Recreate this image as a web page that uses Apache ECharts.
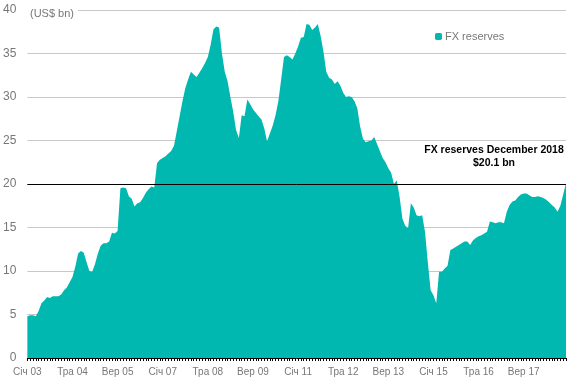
<!DOCTYPE html>
<html>
<head>
<meta charset="utf-8">
<script src="https://cdn.jsdelivr.net/npm/echarts@6/dist/echarts.min.js"></script>
<style>
html,body{margin:0;padding:0;background:#fff;}
#chart{width:586px;height:392px;}
</style>
</head>
<body>
<div id="chart"></div>
<script>
// Month abbreviations (Ukrainian) and years for category labels
var monthNames = ['Січ','Лют','Бер','Кві','Тра','Чер','Лип','Сер','Вер','Жов','Лис','Гру'];
var years = ['03','04','05','06','07','08','09','10','11','12','13','14','15','16','17','18'];

// FX reserves, US$ bn, monthly Jan 2003 - Dec 2018
var fx2003 = [4.8, 4.9, 4.9, 4.8, 5.4, 6.3, 6.6, 7.0, 6.9, 7.1, 7.1, 7.1];
var fx2004 = [7.3, 7.8, 8.1, 8.7, 9.3, 10.5, 12.0, 12.3, 12.1, 11.0, 10.0, 9.9];
var fx2005 = [10.8, 12.0, 12.9, 13.2, 13.2, 13.4, 14.4, 14.3, 14.6, 19.5, 19.6, 19.5];
var fx2006 = [18.6, 18.3, 17.4, 17.8, 17.9, 18.4, 19.0, 19.4, 19.7, 19.6, 22.4, 22.8];
var fx2007 = [23.0, 23.2, 23.5, 23.8, 24.4, 26.1, 27.8, 29.5, 31.0, 32.0, 32.9, 32.6];
var fx2008 = [32.3, 32.8, 33.3, 33.9, 34.6, 36.0, 37.8, 38.1, 38.0, 35.0, 32.9, 31.8];
var fx2009 = [30.0, 28.3, 26.2, 25.3, 27.9, 27.8, 29.7, 29.2, 28.6, 28.2, 27.8, 27.4];
var fx2010 = [26.4, 24.9, 25.8, 26.7, 27.9, 29.5, 32.0, 34.6, 34.8, 34.6, 34.3, 35.0];
var fx2011 = [35.8, 36.8, 36.9, 38.4, 38.3, 37.7, 38.0, 38.4, 37.0, 35.2, 32.9, 32.2];
var fx2012 = [32.0, 31.5, 31.8, 31.3, 30.5, 30.0, 30.1, 30.0, 29.5, 28.7, 26.6, 25.2];
var fx2013 = [24.8, 24.9, 25.0, 25.4, 24.6, 23.8, 23.0, 22.5, 21.8, 21.3, 20.0, 20.4];
var fx2014 = [18.5, 16.0, 15.2, 14.9, 17.8, 17.3, 16.4, 16.3, 16.4, 14.5, 11.0, 7.8];
var fx2015 = [7.2, 6.3, 9.9, 9.9, 10.3, 10.6, 12.4, 12.6, 12.8, 13.0, 13.2, 13.4];
var fx2016 = [13.4, 13.0, 13.5, 13.8, 14.0, 14.1, 14.3, 14.5, 15.7, 15.6, 15.5, 15.6];
var fx2017 = [15.6, 15.5, 16.8, 17.6, 18.0, 18.1, 18.5, 18.8, 18.9, 18.9, 18.7, 18.5];
var fx2018 = [18.5, 18.6, 18.5, 18.4, 18.2, 17.9, 17.6, 17.3, 16.8, 17.5, 18.8, 20.1];

var refLevel = 20.1;
var yTicks = [0, 5, 10, 15, 20, 25, 30, 35, 40];

var fxValues = [].concat(fx2003, fx2004, fx2005, fx2006, fx2007, fx2008, fx2009, fx2010,
  fx2011, fx2012, fx2013, fx2014, fx2015, fx2016, fx2017, fx2018);

var categories = [];
years.forEach(function (y) {
  monthNames.forEach(function (m) { categories.push(m + ' ' + y); });
});

var FONT = '"Liberation Sans", Arial, sans-serif';
var chart = echarts.init(document.getElementById('chart'), null, {renderer: 'canvas'});
chart.setOption({
  animation: false,
  backgroundColor: '#fff',
  title: {
    text: '(US$ bn)',
    left: 27, top: 7,
    padding: [1, 4, 1, 3],
    backgroundColor: '#fff',
    textStyle: {fontFamily: FONT, fontSize: 11, fontWeight: 'normal', color: '#777'}
  },
  legend: {
    data: ['FX reserves'],
    left: 430, top: 26,
    icon: 'roundRect',
    itemWidth: 7, itemHeight: 7,
    textStyle: {fontFamily: FONT, fontSize: 11, color: '#777', padding: [0, 0, 0, -2]}
  },
  grid: {left: 26, right: 20, top: 10, bottom: 34, containLabel: false},
  xAxis: {
    type: 'category',
    data: categories,
    boundaryGap: false,
    axisLine: {lineStyle: {color: '#000', width: 1}},
    axisTick: {show: true, interval: 0, length: 3, lineStyle: {color: '#000', width: 1}},
    axisLabel: {interval: 15, fontFamily: FONT, fontSize: 10, color: '#777', margin: 9},
    splitLine: {show: false}
  },
  yAxis: {
    type: 'value',
    min: yTicks[0], max: yTicks[yTicks.length - 1], interval: 5,
    axisLine: {show: false},
    axisTick: {show: false},
    axisLabel: {fontFamily: FONT, fontSize: 12, color: '#777', margin: 11},
    splitLine: {lineStyle: {color: '#c8c8c8', width: 1}}
  },
  series: [{
    name: 'FX reserves',
    type: 'line',
    data: fxValues,
    showSymbol: false,
    symbol: 'none',
    lineStyle: {width: 0, color: '#00b8b0'},
    itemStyle: {color: '#00b8b0'},
    areaStyle: {color: '#00b8b0', opacity: 1},
    markLine: {
      silent: true,
      symbol: ['none', 'none'],
      label: {show: false},
      lineStyle: {color: '#000', width: 1, type: 'solid'},
      data: [{yAxis: 20}]
    },
    z: 2
  }],
  graphic: [{
    type: 'text',
    x: 494, y: 144,
    style: {
      text: 'FX reserves December 2018\n$' + refLevel + ' bn',
      font: 'bold 10.5px "Liberation Sans", Arial, sans-serif',
      fill: '#000',
      align: 'center',
      verticalAlign: 'top',
      lineHeight: 13
    }
  }]
});
</script>
</body>
</html>
